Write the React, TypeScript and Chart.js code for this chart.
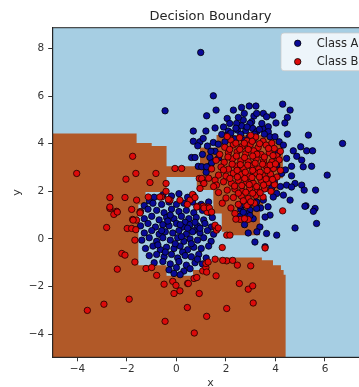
import React, { useEffect, useRef } from 'react';
import { Chart, registerables } from 'chart.js';

Chart.register(...registerables);

const FONT = "'DejaVu Sans', 'Liberation Sans', sans-serif";

const chartTitle = 'Decision Boundary';
const xLabel = 'x';
const yLabel = 'y';
const seriesLabels = ['Class A', 'Class B'];
const xTicks = [-4, -2, 0, 2, 4, 6];
const yTicks = [-4, -2, 0, 2, 4, 6, 8];
const xRange = [-5, 7.75];
const yRange = [-4.97, 8.87];

// Class A (blue) points [x, y]
const classA: [number, number][] = [
  [0.98, 7.83], [1.49, 6.01], [-0.46, 5.38], [4.29, 5.66], [1.22, 5.17], [1.6, 5.41], [2.05, 5.06], [2.3, 5.41],
  [2.63, 5.52], [2.94, 5.58], [3.21, 5.58], [3.13, 5.16], [3.51, 5.27], [3.64, 5.13], [3.89, 5.2], [4.48, 5.1],
  [4.59, 5.41], [4.38, 4.87], [2.7, 4.99], [2.5, 4.78], [2.5, 5.1], [2.74, 5.27],
  [0.68, 4.53], [1.19, 4.53], [1.56, 4.66], [1.83, 4.39], [2.09, 4.53], [2.46, 4.57], [2.63, 4.75], [2.43, 4.85],
  [0.68, 4.1], [0.95, 4.08], [1.08, 4.22], [0.86, 3.91], [1.49, 4.05], [1.69, 3.98], [1.56, 3.68], [2.07, 4.36],
  [0.61, 3.42], [0.75, 3.42], [1.35, 3.42], [1.39, 3.68], [0.88, 3.05], [1.33, 3.05], [1.42, 3.19], [1.96, 4.08],
  [3.04, 4.92], [3.24, 5.27], [4.02, 4.87], [3.71, 4.71], [3.48, 4.64], [2.97, 4.85], [3.08, 4.64], [3.24, 4.5],
  [3.71, 4.5], [3.78, 4.29], [3.98, 4.29], [4.15, 4.08], [4.32, 3.94], [4.48, 4.4], [5.33, 4.36], [6.71, 4.01],
  [4.72, 3.7], [5.02, 3.87], [5.26, 3.7], [5.5, 3.7], [4.86, 3.47], [5.06, 3.31], [4.45, 3.38], [5.46, 3.05],
  [4.65, 3.05], [5.12, 3.03], [6.09, 2.68], [4.65, 2.65], [4.79, 2.33], [5.06, 2.26], [5.16, 2.05], [5.62, 2.05],
  [4.45, 2.26], [4.65, 2.18], [4.32, 1.84], [4.59, 1.63], [4.05, 1.91], [3.91, 1.76], [5.23, 1.39], [5.6, 1.28],
  [5.53, 1.16], [5.66, 0.65], [4.79, 0.46], [4.05, 0.16], [3.64, 0.23], [3.17, -0.13], [3.37, 0.5], [3.78, 1.0],
  [3.58, 0.92], [3.24, 1.55], [3.51, 1.63], [2.97, 1.21], [5.19, 1.37], [3.58, -0.33],
  [2.2, 4.45], [2.35, 4.2], [2.6, 4.4], [2.8, 4.55], [2.95, 4.3], [3.15, 4.4], [3.35, 4.6], [3.55, 4.4],
  [2.75, 4.15], [3.1, 4.15], [2.4, 4.65], [1.9, 4.7], [2.15, 4.85], [3.45, 4.85], [2.85, 4.7],
  [1.2, 2.8], [1.05, 3.55], [1.25, 3.9], [1.7, 3.4], [1.02, 3.03], [1.22, 3.03],
  [4.05, 3.1], [4.25, 2.75], [3.95, 2.4], [4.2, 2.2], [3.85, 2.15], [4.4, 2.9], [4.1, 3.6],
  [2.6, 1.25], [2.85, 1.05], [3.1, 0.85], [2.75, 0.6], [3.4, 1.3], [3.0, 1.5], [3.7, 1.35], [2.55, 0.95],
  [3.25, 0.3], [2.9, 0.25], [2.57, 1.4], [2.7, 1.12], [2.97, 0.98], [3.24, 1.28],
  [-0.9, 1.75], [-0.55, 1.85], [-0.2, 1.8], [0.1, 1.9], [0.45, 1.75], [-1.1, 1.6],
  [-1.3, 1.4], [-0.95, 1.5], [-0.6, 1.45], [-0.3, 1.55], [0.0, 1.45], [0.3, 1.5], [0.65, 1.55], [1.0, 1.45], [1.3, 1.55],
  [-1.45, 1.15], [-1.15, 1.25], [-0.8, 1.2], [-0.5, 1.1], [-0.2, 1.25], [0.1, 1.15], [0.4, 1.2], [0.7, 1.1], [1.05, 1.2], [1.35, 1.1],
  [-1.3, 0.85], [-1.0, 0.95], [-0.7, 0.8], [-0.4, 0.9], [-0.1, 0.85], [0.2, 0.95], [0.5, 0.85], [0.8, 0.9], [1.1, 0.8], [1.45, 0.9],
  [-0.25, 1.0], [0.35, 0.7],
  [-1.45, 0.55], [-1.15, 0.65], [-0.85, 0.5], [-0.55, 0.6], [-0.3, 0.55], [0.0, 0.65], [0.25, 0.5], [0.55, 0.6],
  [0.85, 0.55], [1.15, 0.65], [1.4, 0.5], [0.7, 0.35],
  [-1.3, 0.25], [-1.0, 0.35], [-0.7, 0.2], [-0.45, 0.3], [-0.15, 0.25], [0.1, 0.35], [0.4, 0.2], [0.65, 0.3],
  [0.95, 0.25], [1.25, 0.35], [1.5, 0.2],
  [-1.4, -0.05], [-1.1, 0.05], [-0.8, -0.1], [-0.55, 0.05], [-0.25, -0.05], [0.05, 0.05], [0.3, -0.1], [0.55, 0.0],
  [0.85, -0.05], [1.1, 0.05], [1.4, -0.1],
  [-1.25, -0.4], [-0.95, -0.3], [-0.65, -0.45], [-0.4, -0.35], [-0.1, -0.4], [0.15, -0.3], [0.45, -0.45], [0.7, -0.35],
  [1.0, -0.4], [1.3, -0.3], [0.25, -0.55],
  [-1.1, -0.7], [-0.8, -0.65], [-0.5, -0.75], [-0.2, -0.65], [0.05, -0.8], [0.35, -0.7], [0.6, -0.75], [0.9, -0.65], [1.2, -0.8],
  [-0.9, -1.0], [-0.55, -0.95], [-0.25, -1.05], [0.1, -0.95], [0.4, -1.1], [0.75, -1.0], [1.05, -1.05],
  [-0.3, -1.3], [0.0, -1.2], [0.3, -1.35], [0.55, -1.25], [0.15, -1.5], [-0.1, -1.45],
  [-0.6, 0.35], [-0.35, 0.75], [0.15, 0.6], [0.45, 0.45], [0.75, 0.7], [-0.05, -0.2], [0.6, -0.2], [-0.75, -0.25],
  [0.95, 0.45], [0.2, 0.1], [-0.45, -0.55], [0.85, -0.85],
];

// Class B (red) points [x, y]
const classB: [number, number][] = [
  [-4.03, 2.75], [-1.77, 3.47], [-1.64, 2.75], [-2.04, 2.51], [-1.07, 2.37], [-0.83, 2.75], [-2.69, 1.74], [-2.08, 1.74],
  [-1.61, 1.63], [-1.14, 1.76], [-2.69, 1.28], [-2.42, 1.16], [-2.53, 1.03], [-1.81, 1.24], [-1.47, 1.13], [-1.77, 0.82],
  [-2.82, 0.48], [-1.99, 0.44], [-1.81, 0.44], [-1.64, 0.39], [-1.68, -0.05],
  [-0.06, 2.96], [0.21, 2.96], [-0.6, 1.76], [-0.26, 1.63], [0.14, 1.63], [0.55, 1.63], [0.68, 1.84], [0.92, 2.54],
  [1.08, 2.4], [0.84, 1.37], [1.08, 1.37], [1.28, 1.34], [1.24, 1.13], [1.56, 0.5], [1.62, 0.37], [2.03, 0.16],
  [2.16, 0.16], [1.85, -0.36], [2.57, 0.82], [2.9, 0.82], [4.29, 1.18], [-1.61, 0.79],
  [-2.21, -0.61], [-2.08, -0.68], [-1.68, -0.97], [-2.39, -1.27], [-1.23, -1.24], [-1.0, -1.2], [-0.8, -1.53],
  [-0.5, -1.9], [-0.15, -1.78], [-0.02, -1.95], [0.14, -2.18], [-0.1, -2.29], [0.45, -1.87], [0.71, -1.66],
  [1.06, -1.34], [1.19, -1.2], [1.6, -1.55], [0.92, -2.29], [0.44, -2.88], [-0.46, -3.46], [0.72, -3.95],
  [1.22, -3.25], [2.03, -2.92], [2.54, -1.87], [2.9, -2.11], [3.08, -1.97], [3.1, -2.69], [3.0, -1.13],
  [2.46, -1.1], [2.03, -0.92], [2.27, -0.9], [1.87, -0.9], [1.56, -0.85], [-1.91, -2.53], [-2.93, -2.74], [-3.6, -3.0],
  [-0.42, 2.33], [-0.42, 2.0], [-0.67, 1.76], [-0.33, 1.66], [0.65, 1.87], [0.75, 1.74], [1.02, 2.54], [1.11, 2.33],
  [1.56, 2.47], [1.62, 2.26], [0.95, 2.12], [0.82, 1.34], [1.11, 1.3], [1.33, 1.3], [1.42, 1.13], [0.44, 1.45],
  [1.56, 0.58], [1.69, 0.46], [2.36, 1.07], [2.4, 0.83], [2.75, 0.85], [3.58, -0.38],
  [-2.69, 1.34], [-2.39, 1.13], [-1.75, 0.79], [-1.47, 1.09], [1.22, -1.39], [1.19, -1.03], [1.28, -0.97],
  [0.82, -1.62], [0.48, -1.87],
  [2.2, 4.15], [2.55, 4.25], [2.85, 4.12], [3.2, 4.28], [3.5, 4.1], [3.85, 4.02], [2.05, 4.3], [3.0, 4.35],
  [1.95, 3.85], [2.3, 3.95], [2.65, 3.88], [2.98, 3.96], [3.3, 3.84], [3.62, 3.94], [3.95, 3.8], [4.2, 3.68],
  [1.75, 3.55], [2.1, 3.62], [2.45, 3.66], [2.8, 3.58], [3.12, 3.7], [3.42, 3.55], [3.75, 3.62], [4.05, 3.48],
  [1.6, 3.3], [1.93, 3.22], [2.26, 3.36], [2.6, 3.28], [2.9, 3.24], [3.22, 3.36], [3.52, 3.28], [3.86, 3.24], [4.15, 3.32],
  [1.42, 2.94], [1.8, 3.02], [2.1, 2.93], [2.42, 3.06], [2.72, 2.95], [3.02, 3.05], [3.32, 2.94], [3.62, 3.06],
  [3.92, 2.96], [4.2, 2.88],
  [1.7, 2.68], [2.0, 2.64], [2.3, 2.76], [2.6, 2.7], [2.92, 2.64], [3.2, 2.76], [3.5, 2.66], [3.8, 2.72], [4.06, 2.6],
  [1.9, 2.4], [2.22, 2.34], [2.5, 2.46], [2.82, 2.38], [3.1, 2.34], [3.42, 2.46], [3.7, 2.36], [3.96, 2.28],
  [2.05, 2.05], [2.36, 2.1], [2.66, 2.0], [2.96, 2.12], [3.26, 2.04], [3.56, 2.1], [3.82, 2.0],
  [2.3, 1.74], [2.62, 1.8], [2.9, 1.7], [3.2, 1.82], [3.5, 1.76], [2.0, 1.72],
  [2.5, 1.45], [2.85, 1.4], [3.15, 1.5], [2.2, 1.3],
  [2.4, 4.02], [2.74, 4.02], [3.06, 4.1], [3.36, 4.0], [3.72, 3.8], [2.15, 3.76], [2.56, 3.76], [2.9, 3.76],
  [3.25, 3.56], [3.55, 3.44], [2.42, 3.48], [2.75, 3.42], [3.08, 3.48], [3.9, 3.5], [2.08, 3.44], [1.9, 2.9],
  [2.25, 3.14], [2.58, 3.12], [2.88, 3.1], [3.18, 3.18], [3.48, 3.14], [3.78, 3.1], [4.0, 3.15], [2.45, 2.88],
  [2.78, 2.8], [3.08, 2.88], [3.38, 2.8], [3.66, 2.88], [2.16, 2.54], [2.46, 2.6], [2.76, 2.54], [3.05, 2.58],
  [3.35, 2.6], [3.62, 2.52], [3.88, 2.5], [2.35, 2.22], [2.64, 2.24], [2.94, 2.28], [3.24, 2.2], [3.52, 2.26],
  [2.5, 1.92], [2.8, 1.96], [3.08, 1.92], [3.38, 1.94], [2.7, 1.6], [3.0, 1.56],
  [1.3, 2.55], [1.5, 2.2], [1.7, 1.95], [1.85, 1.5],
];

// Brown (Class B) decision region outline, data coordinates
const brownRegion: [number, number][] = [
  [-6, -6], [-6, 4.43], [-1.61, 4.43], [-1.61, 4.03], [-1.0, 4.03], [-1.0, 3.9], [-0.4, 3.9], [-0.4, 3.05],
  [0.95, 3.05], [0.95, 3.84], [1.62, 3.84], [1.62, 4.36], [4.05, 4.36], [4.05, 4.0], [4.3, 4.0], [4.3, 2.55],
  [4.1, 2.55], [4.1, 1.97], [3.5, 1.97], [3.5, 1.28], [3.37, 1.28], [3.37, 0.15], [2.03, 0.15], [2.03, 0.3],
  [1.83, 0.3], [1.83, 1.07], [1.49, 1.07], [1.49, 2.05], [0.82, 2.05], [0.82, 2.6], [-0.4, 2.6], [-0.4, 1.97],
  [-1.25, 1.97], [-1.25, 1.45], [-1.54, 1.45], [-1.54, -1.1], [-0.4, -1.1], [-0.4, -1.55], [0.67, -1.55],
  [0.67, -1.3], [1.1, -1.3], [1.1, -0.95], [1.55, -0.95], [1.55, -0.78], [3.45, -0.78], [3.45, -0.9],
  [3.9, -0.9], [3.9, -1.1], [4.22, -1.1], [4.22, -1.3], [4.33, -1.3], [4.33, -1.5], [4.41, -1.5], [4.41, -6],
];

const COLORS = {
  bgBlue: '#a6cee3',
  brown: '#b15928',
  a: '#0a0a98',
  b: '#dc0a0a',
  text: '#262626',
};

const fmt = (v: number) => (v < 0 ? '\u2212' + Math.abs(v) : String(v));

const regionPlugin = {
  id: 'regionPlugin',
  beforeDatasetsDraw(chart: any) {
    const { ctx, chartArea: a, scales } = chart;
    ctx.save();
    ctx.beginPath();
    ctx.rect(a.left, a.top, a.right - a.left, a.bottom - a.top);
    ctx.clip();
    ctx.fillStyle = COLORS.bgBlue;
    ctx.fillRect(a.left, a.top, a.right - a.left, a.bottom - a.top);
    ctx.beginPath();
    brownRegion.forEach(([x, y], i) => {
      const px = scales.x.getPixelForValue(x);
      const py = scales.y.getPixelForValue(y);
      if (i === 0) ctx.moveTo(px, py);
      else ctx.lineTo(px, py);
    });
    ctx.closePath();
    ctx.fillStyle = COLORS.brown;
    ctx.fill();
    ctx.restore();
  },
  afterDatasetsDraw(chart: any) {
    const { ctx, chartArea: a } = chart;
    ctx.save();
    ctx.strokeStyle = '#222';
    ctx.lineWidth = 1;
    ctx.strokeRect(a.left, a.top, a.right - a.left, a.bottom - a.top);
    ctx.restore();
  },
};

const legendPlugin = {
  id: 'legendPlugin',
  afterDraw(chart: any) {
    const { ctx, chartArea: a } = chart;
    const w = 82;
    const h = 37.7;
    const right = a.right - 5.3;
    const left = right - w;
    const top = a.top + 5.3;
    ctx.save();
    ctx.beginPath();
    const r = 3;
    ctx.moveTo(left + r, top);
    ctx.lineTo(right - r, top);
    ctx.quadraticCurveTo(right, top, right, top + r);
    ctx.lineTo(right, top + h - r);
    ctx.quadraticCurveTo(right, top + h, right - r, top + h);
    ctx.lineTo(left + r, top + h);
    ctx.quadraticCurveTo(left, top + h, left, top + h - r);
    ctx.lineTo(left, top + r);
    ctx.quadraticCurveTo(left, top, left + r, top);
    ctx.closePath();
    ctx.fillStyle = 'rgba(255,255,255,0.8)';
    ctx.fill();
    ctx.strokeStyle = 'rgba(204,204,204,0.8)';
    ctx.lineWidth = 1;
    ctx.stroke();
    chart.data.datasets.forEach((ds: any, i: number) => {
      const cy = top + 10.3 + i * 18.4;
      ctx.beginPath();
      ctx.arc(left + 16.7, cy, 3.2, 0, Math.PI * 2);
      ctx.fillStyle = ds.backgroundColor;
      ctx.fill();
      ctx.lineWidth = 0.8;
      ctx.strokeStyle = '#000';
      ctx.stroke();
      ctx.fillStyle = COLORS.text;
      ctx.font = `11.5px ${FONT}`;
      ctx.textBaseline = 'middle';
      ctx.textAlign = 'left';
      ctx.fillText(ds.label, left + 35.7, cy + 0.5);
    });
    ctx.restore();
  },
};

export default function App() {
  const ref = useRef<HTMLCanvasElement | null>(null);

  useEffect(() => {
    if (!ref.current) return;
    const toPts = (arr: [number, number][]) => arr.map(([x, y]) => ({ x, y }));
    const chart = new Chart(ref.current, {
      type: 'scatter',
      data: {
        datasets: [
          {
            label: seriesLabels[0],
            data: toPts(classA),
            backgroundColor: COLORS.a,
            borderColor: '#000',
            borderWidth: 0.8,
            pointRadius: 3.2,
            order: 1,
          },
          {
            label: seriesLabels[1],
            data: toPts(classB),
            backgroundColor: COLORS.b,
            borderColor: '#1a0000',
            borderWidth: 0.8,
            pointRadius: 3.2,
            order: 0,
          },
        ],
      },
      options: {
        responsive: false,
        maintainAspectRatio: false,
        animation: false,
        events: [],
        layout: { padding: { left: 0, right: 11.7, top: 0, bottom: 5.7 } },
        plugins: {
          legend: { display: false },
          tooltip: { enabled: false },
          title: {
            display: true,
            text: chartTitle,
            fullSize: false,
            color: COLORS.text,
            font: { family: FONT, size: 13, weight: 'normal' },
            padding: { top: 9, bottom: 3.1 },
          },
        },
        scales: {
          x: {
            type: 'linear',
            position: 'bottom',
            min: xRange[0],
            max: xRange[1],
            afterFit: (s: any) => { s.height = 32; },
            afterBuildTicks: (s: any) => { s.ticks = xTicks.map((v) => ({ value: v })); },
            ticks: {
              callback: (v: any) => fmt(Number(v)),
              color: '#333',
              font: { family: FONT, size: 10.5 },
              padding: 2,
              maxRotation: 0,
              autoSkip: false,
            },
            grid: { drawOnChartArea: false, drawTicks: true, tickLength: 4, tickColor: '#333' },
            border: { display: true, color: '#222' },
            title: {
              display: true,
              text: xLabel,
              color: '#333',
              font: { family: FONT, size: 11 },
              padding: { top: 0, bottom: 0 },
            },
          },
          y: {
            type: 'linear',
            min: yRange[0],
            max: yRange[1],
            afterFit: (s: any) => { s.width = 52.7; },
            afterBuildTicks: (s: any) => { s.ticks = yTicks.map((v) => ({ value: v })); },
            ticks: {
              callback: (v: any) => fmt(Number(v)),
              color: '#333',
              font: { family: FONT, size: 10.5 },
              padding: 4,
              autoSkip: false,
            },
            grid: { drawOnChartArea: false, drawTicks: true, tickLength: 4.5, tickColor: '#333' },
            border: { display: true, color: '#222' },
            title: {
              display: true,
              text: yLabel,
              color: '#333',
              font: { family: FONT, size: 11 },
              padding: { top: 11, bottom: 0 },
            },
          },
        },
      } as any,
      plugins: [regionPlugin, legendPlugin],
    });
    return () => chart.destroy();
  }, []);

  return (
    <div style={{ position: 'absolute', left: 0, top: 0, width: 359, height: 387, overflow: 'hidden', background: '#fff' }}>
      <canvas ref={ref} width={380} height={395} style={{ width: 380, height: 395, display: 'block' }} />
    </div>
  );
}
